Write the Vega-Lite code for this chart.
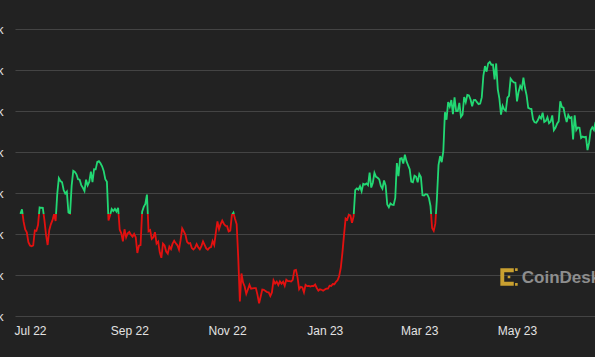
{
  "$schema": "https://vega.github.io/schema/vega-lite/v6.json",
  "autosize": {"type": "none"},
  "padding": {"left": 15, "top": 29, "right": 0, "bottom": 41},
  "width": 580,
  "height": 287,
  "background": "#222222",
  "config": {"view": {"stroke": null}},
  "layer": [
    {
      "data": {"values": [
        {"d":"2022-06-25","p":21230},{"d":"2022-06-26","p":21500},{"d":"2022-06-27","p":20750},{"d":"2022-06-28","p":20280},{"d":"2022-06-29","p":20100},{"d":"2022-06-30","p":19500},
        {"d":"2022-07-01","p":19300},{"d":"2022-07-02","p":19250},{"d":"2022-07-03","p":19300},{"d":"2022-07-04","p":20220},{"d":"2022-07-05","p":20190},{"d":"2022-07-06","p":20550},{"d":"2022-07-07","p":21620},{"d":"2022-07-08","p":21600},{"d":"2022-07-09","p":21590},{"d":"2022-07-10","p":20850},{"d":"2022-07-11","p":19960},{"d":"2022-07-12","p":19330},{"d":"2022-07-13","p":20230},{"d":"2022-07-14","p":20590},{"d":"2022-07-15","p":20830},{"d":"2022-07-16","p":21200},{"d":"2022-07-17","p":20790},{"d":"2022-07-18","p":22430},{"d":"2022-07-19","p":23400},{"d":"2022-07-20","p":23230},{"d":"2022-07-21","p":23160},{"d":"2022-07-22","p":22680},{"d":"2022-07-23","p":22460},{"d":"2022-07-24","p":22580},{"d":"2022-07-25","p":21310},{"d":"2022-07-26","p":21250},{"d":"2022-07-27","p":22950},{"d":"2022-07-28","p":23850},{"d":"2022-07-29","p":23780},{"d":"2022-07-30","p":23640},{"d":"2022-07-31","p":23340},
        {"d":"2022-08-01","p":23310},{"d":"2022-08-02","p":22980},{"d":"2022-08-03","p":22820},{"d":"2022-08-04","p":22620},{"d":"2022-08-05","p":23310},{"d":"2022-08-06","p":22960},{"d":"2022-08-07","p":23180},{"d":"2022-08-08","p":23810},{"d":"2022-08-09","p":23160},{"d":"2022-08-10","p":23950},{"d":"2022-08-11","p":23940},{"d":"2022-08-12","p":24400},{"d":"2022-08-13","p":24440},{"d":"2022-08-14","p":24310},{"d":"2022-08-15","p":24130},{"d":"2022-08-16","p":23850},{"d":"2022-08-17","p":23340},{"d":"2022-08-18","p":23190},{"d":"2022-08-19","p":20830},{"d":"2022-08-20","p":21140},{"d":"2022-08-21","p":21520},{"d":"2022-08-22","p":21400},{"d":"2022-08-23","p":21530},{"d":"2022-08-24","p":21370},{"d":"2022-08-25","p":21600},{"d":"2022-08-26","p":20260},{"d":"2022-08-27","p":20040},{"d":"2022-08-28","p":19550},{"d":"2022-08-29","p":20290},{"d":"2022-08-30","p":19800},{"d":"2022-08-31","p":20050},
        {"d":"2022-09-01","p":20130},{"d":"2022-09-02","p":19950},{"d":"2022-09-03","p":19830},{"d":"2022-09-04","p":20000},{"d":"2022-09-05","p":19800},{"d":"2022-09-06","p":18840},{"d":"2022-09-07","p":19290},{"d":"2022-09-08","p":19320},{"d":"2022-09-09","p":21360},{"d":"2022-09-10","p":21650},{"d":"2022-09-11","p":21830},{"d":"2022-09-12","p":22400},{"d":"2022-09-13","p":20170},{"d":"2022-09-14","p":20240},{"d":"2022-09-15","p":19700},{"d":"2022-09-16","p":19800},{"d":"2022-09-17","p":20110},{"d":"2022-09-18","p":19420},{"d":"2022-09-19","p":19540},{"d":"2022-09-20","p":18880},{"d":"2022-09-21","p":18550},{"d":"2022-09-22","p":19410},{"d":"2022-09-23","p":19300},{"d":"2022-09-24","p":18930},{"d":"2022-09-25","p":18800},{"d":"2022-09-26","p":19230},{"d":"2022-09-27","p":19080},{"d":"2022-09-28","p":19410},{"d":"2022-09-29","p":19590},{"d":"2022-09-30","p":19430},
        {"d":"2022-10-01","p":19310},{"d":"2022-10-02","p":19040},{"d":"2022-10-03","p":19620},{"d":"2022-10-04","p":20340},{"d":"2022-10-05","p":20160},{"d":"2022-10-06","p":19960},{"d":"2022-10-07","p":19530},{"d":"2022-10-08","p":19420},{"d":"2022-10-09","p":19450},{"d":"2022-10-10","p":19140},{"d":"2022-10-11","p":19050},{"d":"2022-10-12","p":19160},{"d":"2022-10-13","p":19380},{"d":"2022-10-14","p":19190},{"d":"2022-10-15","p":19070},{"d":"2022-10-16","p":19260},{"d":"2022-10-17","p":19550},{"d":"2022-10-18","p":19330},{"d":"2022-10-19","p":19120},{"d":"2022-10-20","p":19040},{"d":"2022-10-21","p":19160},{"d":"2022-10-22","p":19200},{"d":"2022-10-23","p":19570},{"d":"2022-10-24","p":19330},{"d":"2022-10-25","p":20090},{"d":"2022-10-26","p":20770},{"d":"2022-10-27","p":20290},{"d":"2022-10-28","p":20600},{"d":"2022-10-29","p":20820},{"d":"2022-10-30","p":20630},{"d":"2022-10-31","p":20500},
        {"d":"2022-11-01","p":20480},{"d":"2022-11-02","p":20160},{"d":"2022-11-03","p":20210},{"d":"2022-11-04","p":21150},{"d":"2022-11-05","p":21300},{"d":"2022-11-06","p":20910},{"d":"2022-11-07","p":20600},{"d":"2022-11-08","p":18540},{"d":"2022-11-09","p":15880},{"d":"2022-11-10","p":17590},{"d":"2022-11-11","p":17040},{"d":"2022-11-12","p":16800},{"d":"2022-11-13","p":16350},{"d":"2022-11-14","p":16620},{"d":"2022-11-15","p":16900},{"d":"2022-11-16","p":16660},{"d":"2022-11-17","p":16680},{"d":"2022-11-18","p":16700},{"d":"2022-11-19","p":16700},{"d":"2022-11-20","p":16290},{"d":"2022-11-21","p":15780},{"d":"2022-11-22","p":16190},{"d":"2022-11-23","p":16610},{"d":"2022-11-24","p":16600},{"d":"2022-11-25","p":16520},{"d":"2022-11-26","p":16460},{"d":"2022-11-27","p":16440},{"d":"2022-11-28","p":16220},{"d":"2022-11-29","p":16440},{"d":"2022-11-30","p":17170},
        {"d":"2022-12-01","p":16970},{"d":"2022-12-02","p":17090},{"d":"2022-12-03","p":16890},{"d":"2022-12-04","p":17110},{"d":"2022-12-05","p":16970},{"d":"2022-12-06","p":17090},{"d":"2022-12-07","p":16840},{"d":"2022-12-08","p":17220},{"d":"2022-12-09","p":17130},{"d":"2022-12-10","p":17130},{"d":"2022-12-11","p":17100},{"d":"2022-12-12","p":17210},{"d":"2022-12-13","p":17780},{"d":"2022-12-14","p":17810},{"d":"2022-12-15","p":17360},{"d":"2022-12-16","p":16630},{"d":"2022-12-17","p":16780},{"d":"2022-12-18","p":16740},{"d":"2022-12-19","p":16440},{"d":"2022-12-20","p":16900},{"d":"2022-12-21","p":16820},{"d":"2022-12-22","p":16830},{"d":"2022-12-23","p":16800},{"d":"2022-12-24","p":16840},{"d":"2022-12-25","p":16830},{"d":"2022-12-26","p":16920},{"d":"2022-12-27","p":16710},{"d":"2022-12-28","p":16550},{"d":"2022-12-29","p":16630},{"d":"2022-12-30","p":16600},{"d":"2022-12-31","p":16540},
        {"d":"2023-01-01","p":16610},{"d":"2023-01-02","p":16670},{"d":"2023-01-03","p":16670},{"d":"2023-01-04","p":16850},{"d":"2023-01-05","p":16830},{"d":"2023-01-06","p":16950},{"d":"2023-01-07","p":16940},{"d":"2023-01-08","p":17090},{"d":"2023-01-09","p":17180},{"d":"2023-01-10","p":17440},{"d":"2023-01-11","p":17940},{"d":"2023-01-12","p":18850},{"d":"2023-01-13","p":19930},{"d":"2023-01-14","p":20950},{"d":"2023-01-15","p":20870},{"d":"2023-01-16","p":21170},{"d":"2023-01-17","p":21130},{"d":"2023-01-18","p":20680},{"d":"2023-01-19","p":21070},{"d":"2023-01-20","p":22670},{"d":"2023-01-21","p":22780},{"d":"2023-01-22","p":22710},{"d":"2023-01-23","p":22920},{"d":"2023-01-24","p":22610},{"d":"2023-01-25","p":23060},{"d":"2023-01-26","p":23010},{"d":"2023-01-27","p":23080},{"d":"2023-01-28","p":22970},{"d":"2023-01-29","p":23740},{"d":"2023-01-30","p":22830},{"d":"2023-01-31","p":23130},
        {"d":"2023-02-01","p":23730},{"d":"2023-02-02","p":23490},{"d":"2023-02-03","p":23430},{"d":"2023-02-04","p":23330},{"d":"2023-02-05","p":22930},{"d":"2023-02-06","p":22760},{"d":"2023-02-07","p":23260},{"d":"2023-02-08","p":22940},{"d":"2023-02-09","p":21800},{"d":"2023-02-10","p":21630},{"d":"2023-02-11","p":21860},{"d":"2023-02-12","p":21790},{"d":"2023-02-13","p":21770},{"d":"2023-02-14","p":22200},{"d":"2023-02-15","p":24330},{"d":"2023-02-16","p":23530},{"d":"2023-02-17","p":24600},{"d":"2023-02-18","p":24630},{"d":"2023-02-19","p":24300},{"d":"2023-02-20","p":24830},{"d":"2023-02-21","p":24440},{"d":"2023-02-22","p":24190},{"d":"2023-02-23","p":23950},{"d":"2023-02-24","p":23200},{"d":"2023-02-25","p":23160},{"d":"2023-02-26","p":23550},{"d":"2023-02-27","p":23490},{"d":"2023-02-28","p":23150},
        {"d":"2023-03-01","p":23650},{"d":"2023-03-02","p":23480},{"d":"2023-03-03","p":22360},{"d":"2023-03-04","p":22350},{"d":"2023-03-05","p":22430},{"d":"2023-03-06","p":22410},{"d":"2023-03-07","p":22200},{"d":"2023-03-08","p":21710},{"d":"2023-03-09","p":20360},{"d":"2023-03-10","p":20190},{"d":"2023-03-11","p":20630},{"d":"2023-03-12","p":22160},{"d":"2023-03-13","p":24200},{"d":"2023-03-14","p":24750},{"d":"2023-03-15","p":24380},{"d":"2023-03-16","p":25050},{"d":"2023-03-17","p":27420},{"d":"2023-03-18","p":26970},{"d":"2023-03-19","p":28040},{"d":"2023-03-20","p":27770},{"d":"2023-03-21","p":28170},{"d":"2023-03-22","p":27310},{"d":"2023-03-23","p":28330},{"d":"2023-03-24","p":27490},{"d":"2023-03-25","p":27490},{"d":"2023-03-26","p":27990},{"d":"2023-03-27","p":27140},{"d":"2023-03-28","p":27270},{"d":"2023-03-29","p":28350},{"d":"2023-03-30","p":28030},{"d":"2023-03-31","p":28480},
        {"d":"2023-04-01","p":28450},{"d":"2023-04-02","p":28200},{"d":"2023-04-03","p":27790},{"d":"2023-04-04","p":28170},{"d":"2023-04-05","p":28180},{"d":"2023-04-06","p":28040},{"d":"2023-04-07","p":27920},{"d":"2023-04-08","p":27950},{"d":"2023-04-09","p":28330},{"d":"2023-04-10","p":29650},{"d":"2023-04-11","p":30240},{"d":"2023-04-12","p":29900},{"d":"2023-04-13","p":30400},{"d":"2023-04-14","p":30490},{"d":"2023-04-15","p":30320},{"d":"2023-04-16","p":30320},{"d":"2023-04-17","p":29430},{"d":"2023-04-18","p":30400},{"d":"2023-04-19","p":28820},{"d":"2023-04-20","p":28250},{"d":"2023-04-21","p":27280},{"d":"2023-04-22","p":27820},{"d":"2023-04-23","p":27590},{"d":"2023-04-24","p":27510},{"d":"2023-04-25","p":28310},{"d":"2023-04-26","p":28420},{"d":"2023-04-27","p":29470},{"d":"2023-04-28","p":29340},{"d":"2023-04-29","p":29250},{"d":"2023-04-30","p":29230},
        {"d":"2023-05-01","p":28090},{"d":"2023-05-02","p":28680},{"d":"2023-05-03","p":29030},{"d":"2023-05-04","p":28850},{"d":"2023-05-05","p":29530},{"d":"2023-05-06","p":28900},{"d":"2023-05-07","p":28450},{"d":"2023-05-08","p":27690},{"d":"2023-05-09","p":27650},{"d":"2023-05-10","p":27620},{"d":"2023-05-11","p":26990},{"d":"2023-05-12","p":26810},{"d":"2023-05-13","p":26780},{"d":"2023-05-14","p":26930},{"d":"2023-05-15","p":27170},{"d":"2023-05-16","p":27040},{"d":"2023-05-17","p":27400},{"d":"2023-05-18","p":26830},{"d":"2023-05-19","p":26890},{"d":"2023-05-20","p":27120},{"d":"2023-05-21","p":26750},{"d":"2023-05-22","p":26850},{"d":"2023-05-23","p":27230},{"d":"2023-05-24","p":26330},{"d":"2023-05-25","p":26480},{"d":"2023-05-26","p":26720},{"d":"2023-05-27","p":26870},{"d":"2023-05-28","p":28090},{"d":"2023-05-29","p":27740},{"d":"2023-05-30","p":27700},{"d":"2023-05-31","p":27220},
        {"d":"2023-06-01","p":26820},{"d":"2023-06-02","p":27250},{"d":"2023-06-03","p":27070},{"d":"2023-06-04","p":27120},{"d":"2023-06-05","p":25760},{"d":"2023-06-06","p":27240},{"d":"2023-06-07","p":26340},{"d":"2023-06-08","p":26500},{"d":"2023-06-09","p":26480},{"d":"2023-06-10","p":25850},{"d":"2023-06-11","p":25940},{"d":"2023-06-12","p":25900},{"d":"2023-06-13","p":25920},{"d":"2023-06-14","p":25120},{"d":"2023-06-15","p":25580},{"d":"2023-06-16","p":26330},{"d":"2023-06-17","p":26510},{"d":"2023-06-18","p":26340},{"d":"2023-06-19","p":26840}
      ]},
      "mark": {
        "type": "line",
        "strokeWidth": 1.8,
        "clip": true,
        "stroke": {
          "gradient": "linear",
          "x1": 0, "y1": 0, "x2": 0, "y2": 1,
          "stops": [
            {"offset": 0, "color": "#22d873"},
            {"offset": 0.6295, "color": "#22d873"},
            {"offset": 0.6295, "color": "#e3100f"},
            {"offset": 1, "color": "#e3100f"}
          ]
        }
      },
      "encoding": {
        "x": {
          "field": "d", "type": "temporal",
          "scale": {"type": "utc", "domain": [
            {"year": 2022, "month": 6, "date": 21, "hours": 15, "minutes": 15, "utc": true},
            {"year": 2023, "month": 6, "date": 18, "hours": 16, "minutes": 20, "utc": true}
          ]},
          "axis": {
            "title": null,
            "format": "%b %y",
            "values": [
              {"year": 2022, "month": 7, "date": 1, "utc": true},
              {"year": 2022, "month": 9, "date": 1, "utc": true},
              {"year": 2022, "month": 11, "date": 1, "utc": true},
              {"year": 2023, "month": 1, "date": 1, "utc": true},
              {"year": 2023, "month": 3, "date": 1, "utc": true},
              {"year": 2023, "month": 5, "date": 1, "utc": true}
            ],
            "grid": false, "domain": false, "ticks": false,
            "labelPadding": 9, "labelFlush": false, "labelOverlap": false, "labelBound": false,
            "labelColor": "#e2e2e2", "labelFont": "Liberation Sans", "labelFontSize": 12
          }
        },
        "y": {
          "field": "p", "type": "quantitative",
          "scale": {"domain": [15000, 32500], "nice": false, "zero": false},
          "axis": {
            "title": null,
            "values": [15000, 17500, 20000, 22500, 25000, 27500, 30000, 32500],
            "format": "~s",
            "grid": true, "gridColor": "#444444", "gridWidth": 1,
            "domain": false, "ticks": false,
            "labelPadding": 12, "labelFlush": false, "labelOverlap": false,
            "labelColor": "#e2e2e2", "labelFont": "Liberation Sans", "labelFontSize": 12
          }
        }
      }
    },
    {
      "data": {"values": [{"label": "CoinDesk"}]},
      "mark": {
        "type": "point",
        "filled": true,
        "color": "#c9a030",
        "opacity": 1,
        "size": 300,
        "shape": "M-1,-1H0.55V-0.55H-0.55V0.55H0.55V1H-1Z M0.7,-1H1V-0.7H0.7Z M0.7,0.7H1V1H0.7Z M-0.15,-0.15H0.15V0.15H-0.15Z"
      },
      "encoding": {
        "x": {"datum": {"year": 2023, "month": 4, "date": 26, "utc": true}, "type": "temporal"},
        "y": {"datum": 17380, "type": "quantitative"}
      }
    },
    {
      "data": {"values": [{"label": "CoinDesk"}]},
      "mark": {
        "type": "text",
        "align": "left",
        "baseline": "alphabetic",
        "font": "Liberation Sans",
        "fontWeight": "bold",
        "fontSize": 17,
        "color": "#8e8e8e"
      },
      "encoding": {
        "text": {"field": "label", "type": "nominal"},
        "x": {"datum": {"year": 2023, "month": 5, "date": 4, "utc": true}, "type": "temporal"},
        "y": {"datum": 17010, "type": "quantitative"}
      }
    }
  ]
}
